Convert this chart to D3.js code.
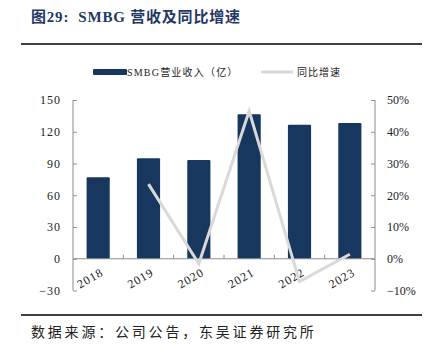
<!DOCTYPE html>
<html><head><meta charset="utf-8">
<script src="https://cdn.jsdelivr.net/npm/d3@7/dist/d3.min.js"></script>
<style>
body{margin:0;background:#fff;}
svg{display:block;}
</style></head>
<body><svg id="c" width="437" height="353"></svg>
<script>
const categories = ["2018","2019","2020","2021","2022","2023"];
const revenue = [77, 95, 93.4, 136.5, 126.7, 128.3];
const growth = [null, 23.5, -1.6, 46.5, -7.2, 1.4];
const leftTicks = [-30, 0, 30, 60, 90, 120, 150];
const rightTicks = [-10, 0, 10, 20, 30, 40, 50];
const seriesNames = ["SMBG营业收入（亿）", "同比增速"];

(function () {
const svg = d3.select("#c");
const serif = "'Liberation Serif','Noto Sans CJK SC',serif";
const cjk = "'Noto Sans CJK SC',sans-serif";
const barColor = "#17375e";
const lineColor = "#d9d9d9";
const axisColor = "#8c8c8c";

// Title
svg.append("text").attr("x", 31).attr("y", 22)
  .attr("font-family", serif)
  .attr("font-weight", "bold").attr("font-size", 15).attr("fill", "#1f3864").attr("letter-spacing", 0.8)
  .text("图29:\u00a0\u00a0SMBG 营收及同比增速");
svg.append("line").attr("x1", 21).attr("x2", 422).attr("y1", 44).attr("y2", 44)
  .attr("stroke", "#000").attr("stroke-width", 1.5);

const pL = 73, pR = 375, pT = 100, pB = 290.5;
const x = d3.scaleBand().domain(categories).range([pL, pR]).paddingInner(0.54).paddingOuter(0.27);
const xb = d3.scaleBand().domain(categories).range([pL, pR]);
const yL = d3.scaleLinear().domain([-30, 150]).range([pB, pT]);
const yR = d3.scaleLinear().domain([-10, 50]).range([pB, pT]);

// Bars
svg.append("g").selectAll("rect").data(categories).join("rect")
  .attr("x", d => x(d)).attr("width", x.bandwidth())
  .attr("y", (d, i) => yL(revenue[i])).attr("height", (d, i) => yL(0) - yL(revenue[i]))
  .attr("fill", barColor).attr("rx", 1);

// Left axis
const gL = svg.append("g").attr("transform", `translate(${pL},0)`)
  .call(d3.axisLeft(yL).tickValues(leftTicks).tickSize(-4).tickPadding(12).tickFormat(d => d < 0 ? "−" + Math.abs(d) : d));
gL.select(".domain").attr("stroke", axisColor).attr("d", `M0,${yL(150)}V${yL(-30)}`);
gL.selectAll(".tick line").attr("stroke", axisColor);
gL.selectAll("text").attr("font-family", serif).attr("font-size", 12).attr("fill", "#222").attr("letter-spacing", 1);

// Right axis
const gR = svg.append("g").attr("transform", `translate(${pR},0)`)
  .call(d3.axisRight(yR).tickValues(rightTicks).tickSize(-4).tickPadding(12).tickFormat(d => (d < 0 ? "−" + Math.abs(d) : d) + "%"));
gR.select(".domain").attr("stroke", axisColor).attr("d", `M0,${yR(50)}V${yR(-10)}`);
gR.selectAll(".tick line").attr("stroke", axisColor);
gR.selectAll("text").attr("font-family", serif).attr("font-size", 12).attr("fill", "#222");

// Zero line with inward ticks at band boundaries
const gX = svg.append("g").attr("transform", `translate(0,${yL(0)})`);
gX.append("line").attr("x1", pL).attr("x2", pR).attr("stroke", axisColor).attr("stroke-width", 1);
gX.selectAll("line.t").data(categories.slice(1)).join("line").attr("class", "t")
  .attr("x1", d => xb(d)).attr("x2", d => xb(d)).attr("y1", 0).attr("y2", -4)
  .attr("stroke", axisColor);

// X labels
svg.append("g").selectAll("text").data(categories).join("text")
  .attr("transform", d => `translate(${xb(d) + xb.bandwidth() / 2 - 6},${yL(0) + 23}) rotate(-30)`)
  .attr("text-anchor", "middle")
  .attr("font-family", serif).attr("font-size", 12).attr("fill", "#222").attr("letter-spacing", 1)
  .text(d => d);

// Line
const pts = categories.map((c, i) => [c, growth[i]]).filter(p => p[1] !== null);
svg.append("path").datum(pts)
  .attr("d", d3.line().x(p => x(p[0]) + x.bandwidth() / 2).y(p => yR(p[1])))
  .attr("fill", "none").attr("stroke", lineColor).attr("stroke-width", 3).attr("stroke-linejoin", "miter");

// Legend
svg.append("rect").attr("x", 93).attr("y", 69).attr("width", 34).attr("height", 6).attr("rx", 1).attr("fill", barColor);
svg.append("text").attr("x", 127).attr("y", 76).attr("font-family", serif).attr("font-size", 10).attr("fill", "#222").attr("letter-spacing", 1.2).text(seriesNames[0]);
svg.append("line").attr("x1", 261).attr("x2", 293).attr("y1", 72).attr("y2", 72).attr("stroke", lineColor).attr("stroke-width", 3);
svg.append("text").attr("x", 297).attr("y", 76).attr("font-family", serif).attr("font-size", 10).attr("fill", "#222").attr("letter-spacing", 1).text(seriesNames[1]);

// Footer
svg.append("line").attr("x1", 21).attr("x2", 422).attr("y1", 315).attr("y2", 315)
  .attr("stroke", "#000").attr("stroke-width", 1.5);
svg.append("text").attr("x", 31).attr("y", 337).attr("font-family", cjk).attr("font-size", 14).attr("fill", "#222").attr("letter-spacing", 2.8)
  .text("数据来源：公司公告，东吴证券研究所");
})();
</script></body></html>
